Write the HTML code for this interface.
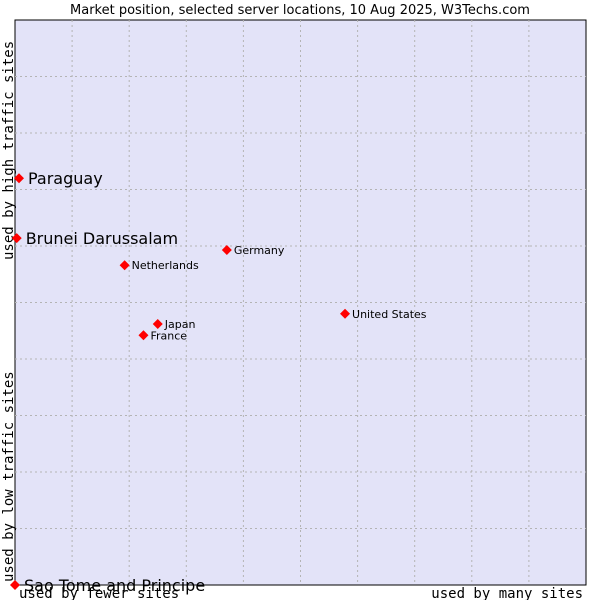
<!DOCTYPE html>
<html><head><meta charset="utf-8"><style>
body{margin:0;background:#fff}
svg{display:block;font-family:"DejaVu Sans","Liberation Sans",sans-serif}
</style></head><body>
<svg id="chart" width="600" height="600">
<text x="300" y="14" text-anchor="middle" font-size="13" fill="#000">Market position, selected server locations, 10 Aug 2025, W3Techs.com</text>
<rect x="15" y="20" width="571" height="565" fill="#e3e3f8" stroke="#000" stroke-width="1"/>
<g id="grid"></g>
<text font-family="DejaVu Sans Mono,Liberation Mono,monospace" font-size="14" transform="translate(13,260) rotate(-90)">used by high traffic sites</text>
<text font-family="DejaVu Sans Mono,Liberation Mono,monospace" font-size="14" transform="translate(13,582) rotate(-90)">used by low traffic sites</text>
<text x="19" y="598" font-family="DejaVu Sans Mono,Liberation Mono,monospace" font-size="14">used by fewer sites</text>
<text x="583" y="598" text-anchor="end" font-family="DejaVu Sans Mono,Liberation Mono,monospace" font-size="14">used by many sites</text>
<g id="points"></g>
</svg>
<script>
const names=["Paraguay","Brunei Darussalam","Germany","Netherlands","United States","Japan","France","Sao Tome and Principe"];
const xVals=[0.7,0.3,37.1,19.2,57.8,25.0,22.5,0];
const yVals=[72.0,61.4,59.3,56.6,48.0,46.2,44.2,0];
const bigLabel=[true,true,false,false,false,false,false,true];
const X0=15,X1=586,Y0=585,Y1=20;
const sx=v=>X0+v/100*(X1-X0);
const sy=v=>Y0-v/100*(Y0-Y1);
const NS="http://www.w3.org/2000/svg";
const grid=document.getElementById('grid');
for(let i=1;i<10;i++){
 const l=document.createElementNS(NS,'line');
 l.setAttribute('x1',sx(i*10));l.setAttribute('x2',sx(i*10));l.setAttribute('y1',Y1);l.setAttribute('y2',Y0);
 l.setAttribute('stroke','#b4b4b4');l.setAttribute('stroke-dasharray','2,3');
 
 
 grid.appendChild(l);
 const m=document.createElementNS(NS,'line');
 m.setAttribute('y1',sy(i*10));m.setAttribute('y2',sy(i*10));m.setAttribute('x1',X0);m.setAttribute('x2',X1);
 m.setAttribute('stroke','#b4b4b4');m.setAttribute('stroke-dasharray','2,3');
 
 
 grid.appendChild(m);
}
const pts=document.getElementById('points');
names.forEach((n,i)=>{
 const x=sx(xVals[i]),y=sy(yVals[i]);
 const d=document.createElementNS(NS,'path');
 d.setAttribute('d',`M${x-5},${y}L${x},${y-5}L${x+5},${y}L${x},${y+5}Z`);
 d.setAttribute('fill','#ff0000');
 
 
 pts.appendChild(d);
 const t=document.createElementNS(NS,'text');
 t.setAttribute('x',x+(bigLabel[i]?9:7));
 t.setAttribute('y',y+(bigLabel[i]?6:4));
 t.setAttribute('font-size',bigLabel[i]?'16':'11');
 t.textContent=n;
 
 
 pts.appendChild(t);
});
</script>
</body></html>
